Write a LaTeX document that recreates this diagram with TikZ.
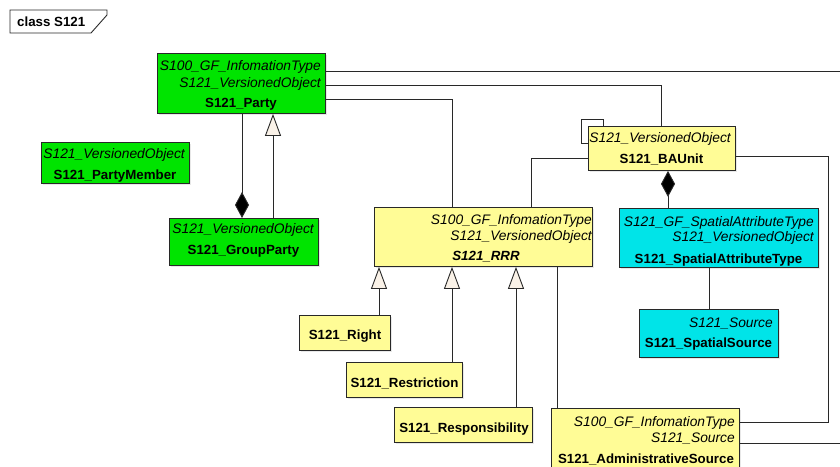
\documentclass[tikz,border=0pt]{standalone}
\usepackage{fontspec}
\setmainfont{Liberation Sans}
\usetikzlibrary{shadows,arrows.meta}

\definecolor{clsgreen}{RGB}{0,228,0}
\definecolor{clsyellow}{RGB}{255,252,150}
\definecolor{clscyan}{RGB}{0,228,232}
\definecolor{genfill}{RGB}{250,242,232}
\definecolor{linecol}{RGB}{40,40,40}

\tikzset{
  cls/.style={draw=linecol, line width=0.9pt, inner sep=0pt, anchor=north west,
    drop shadow={shadow xshift=2pt, shadow yshift=-2pt, opacity=0.18}},
  stereo/.style={font=\fontsize{13.8}{15}\selectfont\itshape, inner sep=0pt, anchor=base east},
  clsname/.style={font=\fontsize{13.3}{15}\selectfont\bfseries, inner sep=0pt, anchor=base},
  conn/.style={draw=linecol, line width=0.9pt},
  compo/.style={conn, -{Diamond[width=14pt,length=26pt,fill=black]}},
  gener/.style={conn, {Triangle[width=16pt,length=22pt,fill=genfill]}-},
}

\begin{document}
\begin{tikzpicture}[x=1pt,y=-1pt]
\useasboundingbox (0,0) rectangle (840,466);
\clip (0,0) rectangle (840,466);
\fill[white] (0,0) rectangle (840,466);

% diagram frame label
\draw[linecol, line width=0.9pt] (10,10) -- (107,10) -- (107,15) -- (91,33) -- (10,33) -- cycle;
\node[clsname, anchor=base west] (framelabel) at (17,26) {class S121};

% ---------- class boxes ----------
\node[cls, fill=clsgreen, minimum width=168pt, minimum height=60pt] (party) at (157,53) {};
\node[stereo] (party-s1) at (321,70) {S100\_GF\_InfomationType};
\node[stereo] (party-s2) at (321,87) {S121\_VersionedObject};
\node[clsname] (party-n) at (241,107) {S121\_Party};

\node[cls, fill=clsgreen, minimum width=148pt, minimum height=41pt] (pmember) at (41,142) {};
\node[stereo] (pmember-s1) at (185,158) {S121\_VersionedObject};
\node[clsname] (pmember-n) at (115,179) {S121\_PartyMember};

\node[cls, fill=clsgreen, minimum width=149pt, minimum height=47pt] (gparty) at (169,218) {};
\node[stereo] (gparty-s1) at (314,233) {S121\_VersionedObject};
\node[clsname] (gparty-n) at (243.5,254) {S121\_GroupParty};

\node[cls, fill=clsyellow, minimum width=218pt, minimum height=59pt] (rrr) at (374,207) {};
\node[stereo] (rrr-s1) at (592,224) {S100\_GF\_InfomationType};
\node[stereo] (rrr-s2) at (592,240) {S121\_VersionedObject};
\node[clsname, font=\fontsize{13.3}{15}\selectfont\bfseries\itshape] (rrr-n) at (486,260) {S121\_RRR};

\node[cls, fill=clsyellow, minimum width=147pt, minimum height=44pt] (baunit) at (588,126) {};
\node[stereo] (baunit-s1) at (731,142) {S121\_VersionedObject};
\node[clsname] (baunit-n) at (661.5,163) {S121\_BAUnit};

\node[cls, fill=clscyan, minimum width=199pt, minimum height=59pt] (sat) at (619,208) {};
\node[stereo] (sat-s1) at (814,226) {S121\_GF\_SpatialAttributeType};
\node[stereo] (sat-s2) at (814,241) {S121\_VersionedObject};
\node[clsname] (sat-n) at (718.5,263) {S121\_SpatialAttributeType};

\node[cls, fill=clscyan, minimum width=139pt, minimum height=48pt] (ssrc) at (639,309) {};
\node[stereo] (ssrc-s1) at (773,327) {S121\_Source};
\node[clsname] (ssrc-n) at (708.5,347) {S121\_SpatialSource};

\node[cls, fill=clsyellow, minimum width=91pt, minimum height=35pt] (right) at (299,315) {};
\node[clsname] (right-n) at (345,339) {S121\_Right};

\node[cls, fill=clsyellow, minimum width=116pt, minimum height=35pt] (restr) at (346,362) {};
\node[clsname] (restr-n) at (404.5,387) {S121\_Restriction};

\node[cls, fill=clsyellow, minimum width=138pt, minimum height=35pt] (resp) at (394,407) {};
\node[clsname] (resp-n) at (464,432) {S121\_Responsibility};

\node[cls, fill=clsyellow, minimum width=188pt, minimum height=70pt] (admin) at (551,408) {};
\node[stereo] (admin-s1) at (735,426) {S100\_GF\_InfomationType};
\node[stereo] (admin-s2) at (735,442) {S121\_Source};
\node[clsname] (admin-n) at (646,463) {S121\_AdministrativeSource};

% ---------- connectors ----------
\coordinate (outA) at (840,71);
\coordinate (outB) at (840,443);

\draw[conn] (party.east |- 0,71) -- (outA);
\draw[conn] (party.east |- 0,85) -| (baunit.north -| 661,0);
\draw[conn] (party.east |- 0,99) -| (rrr.north -| 452,0);
\draw[conn] (rrr.north -| 531,0) |- (baunit.west |- 0,158);

% association loop on BAUnit
\draw[conn] (baunit.west |- 0,143) -- (581,143) -- (581,119) -- (603,119) -- (baunit.north -| 603,0);

\draw[conn] (baunit.east |- 0,156) -- (828,156) -- (828,422) -- (admin.east |- 0,422);
\draw[conn] (admin.east |- 0,443) -- (outB);
\draw[conn] (rrr.south -| 557,0) -- (admin.north -| 557,0);

% compositions
\draw[compo] (sat.north -| 668,0) -- (baunit.south -| 668,0);
\draw[compo] (party.south -| 242,0) -- (gparty.north -| 242,0);

% generalizations
\draw[gener] (party.south -| 273,0) -- (gparty.north -| 273,0);
\draw[gener] (rrr.south -| 379,0) -- (right.north -| 379,0);
\draw[gener] (rrr.south -| 452,0) -- (restr.north -| 452,0);
\draw[gener] (rrr.south -| 516,0) -- (resp.north -| 516,0);

\draw[conn] (sat.south -| 709,0) -- (ssrc.north -| 709,0);
\end{tikzpicture}
\end{document}
